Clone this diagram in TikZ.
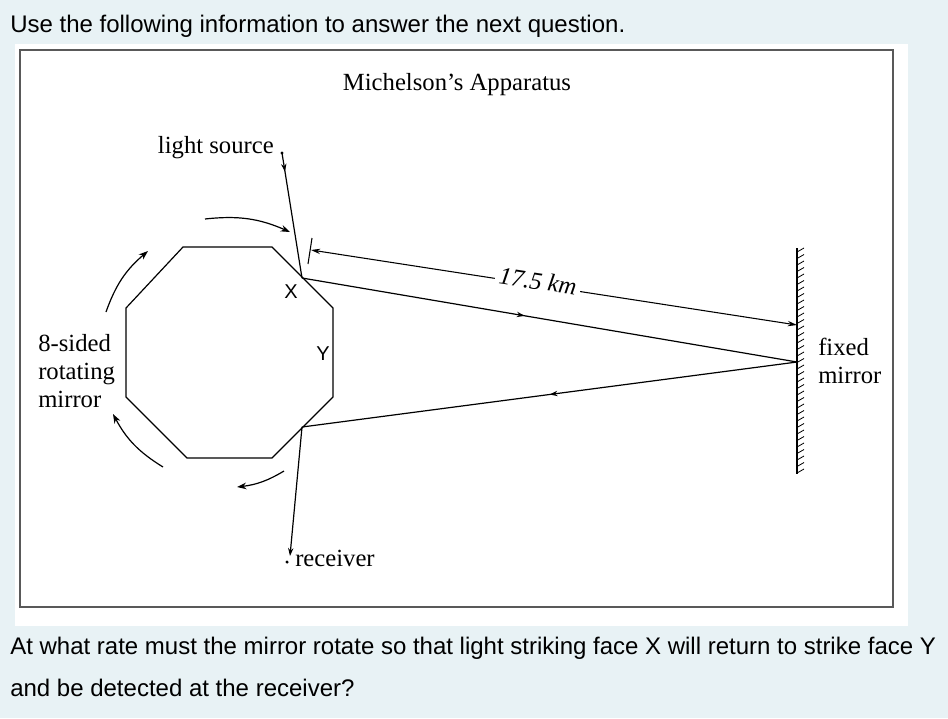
\documentclass[tikz,border=0pt]{standalone}
\usepackage{fontspec}
\setmainfont{Liberation Serif}
\newfontfamily\arial{Liberation Sans}
\usetikzlibrary{decorations.markings,arrows.meta}
\definecolor{bgc}{HTML}{E8F2F5}
\tikzset{
 lbl/.style={font=\fontsize{18.5}{21}\selectfont,inner sep=0pt},
 beam/.style={line width=0.9pt},
 midarr/.style={postaction={decorate},decoration={markings,mark=at position #1 with {\arrow{Stealth[length=6pt,width=4pt]}}}},
 rot/.style={line width=0.9pt,-{Stealth[length=7pt,width=5pt]}},
 q/.style={font=\arial\fontsize{18}{21}\selectfont,inner sep=0pt,anchor=west},
}
\begin{document}
\begin{tikzpicture}[x=0.75pt,y=-0.75pt]
\fill[bgc] (0,0) rectangle (948,718);
\fill[white] (15,44) rectangle (908,626);
\draw[line width=0.9pt,gray!70!black] (20,50) rectangle (893,607);
\node[q] (t1) at (10,26) {Use the following information to answer the next question.};
\node[q] (t2) at (10,648) {At what rate must the mirror rotate so that light striking face X will return to strike face Y};
\node[q] (t3) at (10,688) {and be detected at the receiver?};
\node[lbl] (title) at (457,85) {Michelson's Apparatus};
% octagon
\draw[line width=0.9pt] (183,247)--(272,247)--(333,308)--(333,397)--(272,458)--(187,458)--(126,397)--(126,308)--cycle;
\coordinate (X) at (302,278);
\coordinate (Z) at (302,427);
\coordinate (M1) at (797,325);
\coordinate (M2) at (797,362);
\node[lbl,anchor=east] (ls) at (274,148) {light source};
\fill (282,153) circle (1.3pt) coordinate (src);
\coordinate (rcv) at (287,562);
\fill (rcv) circle (1.3pt);
\node[lbl,anchor=west] (rc) at (295,558) {receiver};
\node[font=\arial\fontsize{15}{17}\selectfont,inner sep=0pt] (xl) at (291,292) {X};
\node[font=\arial\fontsize{15}{17}\selectfont,inner sep=0pt] (yl) at (323,354) {Y};
\node[lbl,anchor=west,align=left] (rm) at (38,371) {8-sided\\rotating\\mirror};
\node[lbl,anchor=west,align=left] (fm) at (818,361) {fixed\\mirror};
% beams
\draw[beam,midarr=0.15] (src)--(X);
\draw[beam,midarr=0.45] (X)--(M2);
\draw[beam,midarr=0.5] (M2)--(Z);
\draw[beam,-{Stealth[length=6pt,width=4pt]}] (Z)--(290,556);
% dimension
\draw[line width=0.8pt] (312,238)--(308,264);
\draw[line width=0.8pt,{Stealth[length=7pt,width=4pt]}-{Stealth[length=7pt,width=4pt]}] (311,250)--(M1);
\node[lbl,fill=white,inner sep=3pt,rotate=-8.8] (dist) at (538,281) {\itshape 17.5 km};
% mirror
\draw[line width=0.9pt] (797,248)--(797,474);
\foreach \y in {252,258.5,...,474} \draw[line width=0.6pt] (797,\y)--(804,\y-4);
% rotation arrows
\draw[rot] (205,219) to[bend left=15] (290,232);
\draw[rot] (106,312) to[bend left=15] (148,251);
\draw[rot] (163,467) to[bend left=15] (113,414);
\draw[rot] (284,471) to[bend left=12] (237,487);
\end{tikzpicture}
\end{document}
